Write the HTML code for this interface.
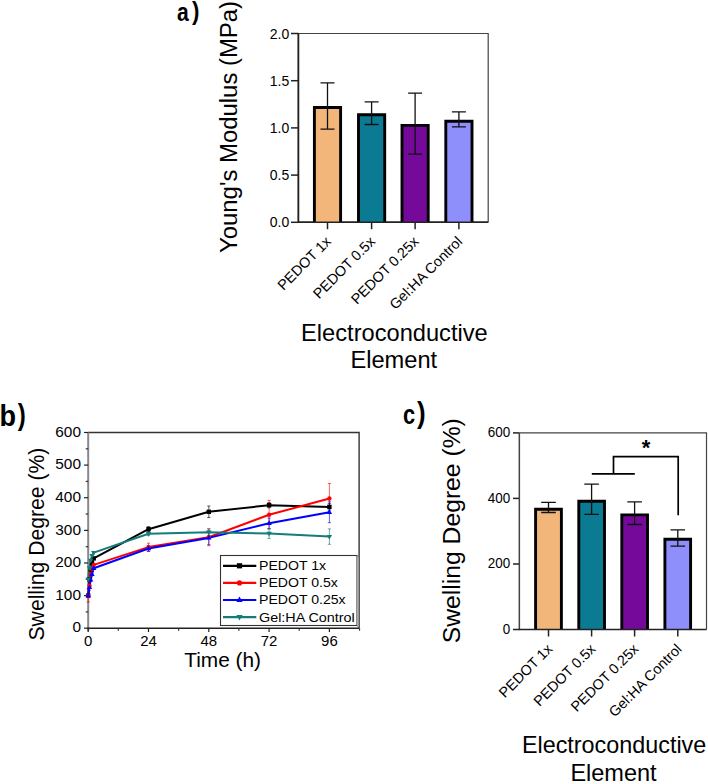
<!DOCTYPE html>
<html><head><meta charset="utf-8"><style>
html,body{margin:0;padding:0;background:#fff;width:708px;height:784px;overflow:hidden}
svg{display:block}
text{font-family:"Liberation Sans", sans-serif;fill:#000}
</style></head><body>
<svg width="708" height="784" viewBox="0 0 708 784">
<path d="M298.4,33.5 H488.2 V222.3" fill="none" stroke="#444" stroke-width="1.2"/>
<path d="M298.4,32.9 V222.3 H488.2" fill="none" stroke="#222" stroke-width="1.5"/>
<line x1="291" y1="222.3" x2="298.4" y2="222.3" stroke="#222" stroke-width="1.5"/>
<text x="289.2" y="227.4" text-anchor="end" font-size="14">0.0</text>
<line x1="291" y1="175.1" x2="298.4" y2="175.1" stroke="#222" stroke-width="1.5"/>
<text x="289.2" y="180.2" text-anchor="end" font-size="14">0.5</text>
<line x1="291" y1="127.9" x2="298.4" y2="127.9" stroke="#222" stroke-width="1.5"/>
<text x="289.2" y="133.0" text-anchor="end" font-size="14">1.0</text>
<line x1="291" y1="80.7" x2="298.4" y2="80.7" stroke="#222" stroke-width="1.5"/>
<text x="289.2" y="85.8" text-anchor="end" font-size="14">1.5</text>
<line x1="291" y1="33.5" x2="298.4" y2="33.5" stroke="#222" stroke-width="1.5"/>
<text x="289.2" y="38.6" text-anchor="end" font-size="14">2.0</text>
<path d="M314.4,222.3 V107.5 H340.6 V222.3Z" fill="#F2B67B"/>
<path d="M314.4,222.3 V107.5 H340.6 V222.3" fill="none" stroke="#000" stroke-width="2.9"/>
<path d="M327.5,82.8 V129.2 M320.5,82.8 H334.5 M320.5,129.2 H334.5" stroke="#111" stroke-width="1.3" fill="none"/>
<line x1="327.5" y1="222.3" x2="327.5" y2="229.2" stroke="#222" stroke-width="1.5"/>
<path d="M358.5,222.3 V114.7 H384.7 V222.3Z" fill="#0B7B93"/>
<path d="M358.5,222.3 V114.7 H384.7 V222.3" fill="none" stroke="#000" stroke-width="2.9"/>
<path d="M371.6,101.9 V124.5 M364.6,101.9 H378.6 M364.6,124.5 H378.6" stroke="#111" stroke-width="1.3" fill="none"/>
<line x1="371.6" y1="222.3" x2="371.6" y2="229.2" stroke="#222" stroke-width="1.5"/>
<path d="M402.0,222.3 V125.4 H428.2 V222.3Z" fill="#750A9A"/>
<path d="M402.0,222.3 V125.4 H428.2 V222.3" fill="none" stroke="#000" stroke-width="2.9"/>
<path d="M415.1,93.1 V154.1 M408.1,93.1 H422.1 M408.1,154.1 H422.1" stroke="#111" stroke-width="1.3" fill="none"/>
<line x1="415.1" y1="222.3" x2="415.1" y2="229.2" stroke="#222" stroke-width="1.5"/>
<path d="M445.8,222.3 V121.2 H472.0 V222.3Z" fill="#8F8FFC"/>
<path d="M445.8,222.3 V121.2 H472.0 V222.3" fill="none" stroke="#000" stroke-width="2.9"/>
<path d="M458.9,111.9 V126.9 M451.9,111.9 H465.9 M451.9,126.9 H465.9" stroke="#111" stroke-width="1.3" fill="none"/>
<line x1="458.9" y1="222.3" x2="458.9" y2="229.2" stroke="#222" stroke-width="1.5"/>
<path d="M298.4,32.9 V222.3 H488.2" fill="none" stroke="#222" stroke-width="1.5"/>
<text transform="translate(331.9,242.5) rotate(-45)" text-anchor="end" font-size="14.4">PEDOT 1x</text>
<text transform="translate(376.0,242.5) rotate(-45)" text-anchor="end" font-size="14.4">PEDOT 0.5x</text>
<text transform="translate(419.5,242.5) rotate(-45)" text-anchor="end" font-size="14.4">PEDOT 0.25x</text>
<text transform="translate(463.3,242.5) rotate(-45)" text-anchor="end" font-size="14.4">Gel:HA Control</text>
<text transform="translate(236.7,253) rotate(-90) scale(0.996,1)" font-size="24">Young's Modulus (MPa)</text>
<text transform="translate(394.4,340.5) scale(1.016,1)" text-anchor="middle" font-size="23.3">Electroconductive</text>
<text transform="translate(393.8,368) scale(1.014,1)" text-anchor="middle" font-size="23.3">Element</text>
<text transform="translate(176.88,20.64) scale(0.823,1)" font-size="25.64" font-weight="bold">a</text>
<text transform="translate(192.00,20.20) scale(0.856,1)" font-size="26.17" font-weight="bold">)</text>
<rect x="0" y="0" width="0" height="0" fill="none"/>
<path d="M88.2,432.5 H359.1 V628.2" fill="none" stroke="#333" stroke-width="1.4"/>
<line x1="88.2" y1="432.5" x2="88.2" y2="631.2" stroke="#888" stroke-width="2"/>
<line x1="87.2" y1="628.2" x2="359.1" y2="628.2" stroke="#222" stroke-width="1.5"/>
<line x1="84" y1="628.2" x2="88.2" y2="628.2" stroke="#222" stroke-width="1.2"/>
<text transform="translate(81,632.4) scale(1.1,1)" text-anchor="end" font-size="14">0</text>
<line x1="84" y1="595.6" x2="88.2" y2="595.6" stroke="#222" stroke-width="1.2"/>
<text transform="translate(81,599.8) scale(1.1,1)" text-anchor="end" font-size="14">100</text>
<line x1="84" y1="563.0" x2="88.2" y2="563.0" stroke="#222" stroke-width="1.2"/>
<text transform="translate(81,567.2) scale(1.1,1)" text-anchor="end" font-size="14">200</text>
<line x1="84" y1="530.4" x2="88.2" y2="530.4" stroke="#222" stroke-width="1.2"/>
<text transform="translate(81,534.6) scale(1.1,1)" text-anchor="end" font-size="14">300</text>
<line x1="84" y1="497.7" x2="88.2" y2="497.7" stroke="#222" stroke-width="1.2"/>
<text transform="translate(81,501.9) scale(1.1,1)" text-anchor="end" font-size="14">400</text>
<line x1="84" y1="465.1" x2="88.2" y2="465.1" stroke="#222" stroke-width="1.2"/>
<text transform="translate(81,469.3) scale(1.1,1)" text-anchor="end" font-size="14">500</text>
<line x1="84" y1="432.5" x2="88.2" y2="432.5" stroke="#222" stroke-width="1.2"/>
<text transform="translate(81,436.7) scale(1.1,1)" text-anchor="end" font-size="14">600</text>
<line x1="85.7" y1="611.9" x2="88.2" y2="611.9" stroke="#333" stroke-width="1.2"/>
<line x1="85.7" y1="579.3" x2="88.2" y2="579.3" stroke="#333" stroke-width="1.2"/>
<line x1="85.7" y1="546.7" x2="88.2" y2="546.7" stroke="#333" stroke-width="1.2"/>
<line x1="85.7" y1="514.0" x2="88.2" y2="514.0" stroke="#333" stroke-width="1.2"/>
<line x1="85.7" y1="481.4" x2="88.2" y2="481.4" stroke="#333" stroke-width="1.2"/>
<line x1="85.7" y1="448.8" x2="88.2" y2="448.8" stroke="#333" stroke-width="1.2"/>
<line x1="88.2" y1="628.2" x2="88.2" y2="632" stroke="#222" stroke-width="1.2"/>
<text transform="translate(88.2,646.3) scale(1.07,1)" text-anchor="middle" font-size="14">0</text>
<line x1="148.5" y1="628.2" x2="148.5" y2="632" stroke="#222" stroke-width="1.2"/>
<text transform="translate(148.5,646.3) scale(1.07,1)" text-anchor="middle" font-size="14">24</text>
<line x1="208.8" y1="628.2" x2="208.8" y2="632" stroke="#222" stroke-width="1.2"/>
<text transform="translate(208.8,646.3) scale(1.07,1)" text-anchor="middle" font-size="14">48</text>
<line x1="269.1" y1="628.2" x2="269.1" y2="632" stroke="#222" stroke-width="1.2"/>
<text transform="translate(269.1,646.3) scale(1.07,1)" text-anchor="middle" font-size="14">72</text>
<line x1="329.4" y1="628.2" x2="329.4" y2="632" stroke="#222" stroke-width="1.2"/>
<text transform="translate(329.4,646.3) scale(1.07,1)" text-anchor="middle" font-size="14">96</text>
<line x1="118.3" y1="628.2" x2="118.3" y2="630.7" stroke="#333" stroke-width="1.2"/>
<line x1="178.6" y1="628.2" x2="178.6" y2="630.7" stroke="#333" stroke-width="1.2"/>
<line x1="238.9" y1="628.2" x2="238.9" y2="630.7" stroke="#333" stroke-width="1.2"/>
<line x1="299.2" y1="628.2" x2="299.2" y2="630.7" stroke="#333" stroke-width="1.2"/>
<line x1="359.5" y1="628.2" x2="359.5" y2="630.7" stroke="#333" stroke-width="1.2"/>
<path d="M148.5,526.6 V531.8 M146.9,526.6 H150.1 M146.9,531.8 H150.1" stroke="#000" stroke-width="0.9" opacity="0.7" fill="none"/>
<path d="M208.8,506.0 V517.5 M207.2,506.0 H210.4 M207.2,517.5 H210.4" stroke="#000" stroke-width="0.9" opacity="0.7" fill="none"/>
<path d="M269.1,502.6 V507.8 M267.5,502.6 H270.7 M267.5,507.8 H270.7" stroke="#000" stroke-width="0.9" opacity="0.7" fill="none"/>
<path d="M329.4,503.6 V510.1 M327.8,503.6 H331.0 M327.8,510.1 H331.0" stroke="#000" stroke-width="0.9" opacity="0.7" fill="none"/>
<path d="M88.2,589.1 V602.1 M86.6,589.1 H89.8 M86.6,602.1 H89.8" stroke="#FF0000" stroke-width="0.9" opacity="0.7" fill="none"/>
<path d="M89.5,580.9 V590.7 M87.9,580.9 H91.1 M87.9,590.7 H91.1" stroke="#FF0000" stroke-width="0.9" opacity="0.7" fill="none"/>
<path d="M148.5,543.2 V551.0 M146.9,543.2 H150.1 M146.9,551.0 H150.1" stroke="#FF0000" stroke-width="0.9" opacity="0.7" fill="none"/>
<path d="M208.8,528.7 V545.7 M207.2,528.7 H210.4 M207.2,545.7 H210.4" stroke="#FF0000" stroke-width="0.9" opacity="0.7" fill="none"/>
<path d="M269.1,500.4 V529.1 M267.5,500.4 H270.7 M267.5,529.1 H270.7" stroke="#FF0000" stroke-width="0.9" opacity="0.7" fill="none"/>
<path d="M329.4,483.5 V513.6 M327.8,483.5 H331.0 M327.8,513.6 H331.0" stroke="#FF0000" stroke-width="0.9" opacity="0.7" fill="none"/>
<path d="M148.5,545.6 V551.5 M146.9,545.6 H150.1 M146.9,551.5 H150.1" stroke="#0000FF" stroke-width="0.9" opacity="0.7" fill="none"/>
<path d="M208.8,531.0 V544.7 M207.2,531.0 H210.4 M207.2,544.7 H210.4" stroke="#0000FF" stroke-width="0.9" opacity="0.7" fill="none"/>
<path d="M269.1,518.1 V528.5 M267.5,518.1 H270.7 M267.5,528.5 H270.7" stroke="#0000FF" stroke-width="0.9" opacity="0.7" fill="none"/>
<path d="M329.4,501.8 V522.7 M327.8,501.8 H331.0 M327.8,522.7 H331.0" stroke="#0000FF" stroke-width="0.9" opacity="0.7" fill="none"/>
<path d="M148.5,531.7 V535.6 M146.9,531.7 H150.1 M146.9,535.6 H150.1" stroke="#157C7C" stroke-width="0.9" opacity="0.7" fill="none"/>
<path d="M208.8,529.0 V535.6 M207.2,529.0 H210.4 M207.2,535.6 H210.4" stroke="#157C7C" stroke-width="0.9" opacity="0.7" fill="none"/>
<path d="M269.1,528.6 V538.4 M267.5,528.6 H270.7 M267.5,538.4 H270.7" stroke="#157C7C" stroke-width="0.9" opacity="0.7" fill="none"/>
<path d="M329.4,528.9 V544.3 M327.8,528.9 H331.0 M327.8,544.3 H331.0" stroke="#157C7C" stroke-width="0.9" opacity="0.7" fill="none"/>
<path d="M88.2,595.6 L89.5,579.3 L90.7,569.5 L92.0,563.0 L93.7,558.4 L148.5,529.2 L208.8,511.8 L269.1,505.2 L329.4,506.9" stroke="#000" stroke-width="2.0" fill="none" stroke-linejoin="round"/>
<path d="M88.2,595.6 L89.5,585.8 L90.7,574.4 L92.0,568.8 L93.7,564.9 L148.5,547.1 L208.8,537.2 L269.1,514.8 L329.4,498.5" stroke="#FF0000" stroke-width="2.0" fill="none" stroke-linejoin="round"/>
<path d="M88.2,595.6 L89.5,587.4 L90.7,579.9 L92.0,574.4 L93.7,568.2 L148.5,548.5 L208.8,537.9 L269.1,523.3 L329.4,512.3" stroke="#0000FF" stroke-width="2.0" fill="none" stroke-linejoin="round"/>
<path d="M88.2,579.3 L89.5,567.9 L90.7,560.4 L92.0,555.8 L93.7,552.6 L148.5,533.7 L208.8,532.3 L269.1,533.5 L329.4,536.6" stroke="#157C7C" stroke-width="2.0" fill="none" stroke-linejoin="round"/>
<rect x="86.0" y="593.4" width="4.4" height="4.4" fill="#000"/>
<rect x="87.3" y="577.1" width="4.4" height="4.4" fill="#000"/>
<rect x="88.5" y="567.3" width="4.4" height="4.4" fill="#000"/>
<rect x="89.8" y="560.8" width="4.4" height="4.4" fill="#000"/>
<rect x="91.5" y="556.2" width="4.4" height="4.4" fill="#000"/>
<rect x="146.3" y="527.0" width="4.4" height="4.4" fill="#000"/>
<rect x="206.6" y="509.6" width="4.4" height="4.4" fill="#000"/>
<rect x="266.9" y="503.0" width="4.4" height="4.4" fill="#000"/>
<rect x="327.2" y="504.7" width="4.4" height="4.4" fill="#000"/>
<circle cx="88.2" cy="595.6" r="2.2" fill="#FF0000"/>
<circle cx="89.5" cy="585.8" r="2.2" fill="#FF0000"/>
<circle cx="90.7" cy="574.4" r="2.2" fill="#FF0000"/>
<circle cx="92.0" cy="568.8" r="2.2" fill="#FF0000"/>
<circle cx="93.7" cy="564.9" r="2.2" fill="#FF0000"/>
<circle cx="148.5" cy="547.1" r="2.2" fill="#FF0000"/>
<circle cx="208.8" cy="537.2" r="2.2" fill="#FF0000"/>
<circle cx="269.1" cy="514.8" r="2.2" fill="#FF0000"/>
<circle cx="329.4" cy="498.5" r="2.2" fill="#FF0000"/>
<path d="M88.2,592.6 L90.9,597.3 L85.5,597.3Z" fill="#0000FF"/>
<path d="M89.5,584.4 L92.2,589.1 L86.8,589.1Z" fill="#0000FF"/>
<path d="M90.7,576.9 L93.4,581.6 L88.0,581.6Z" fill="#0000FF"/>
<path d="M92.0,571.4 L94.7,576.1 L89.3,576.1Z" fill="#0000FF"/>
<path d="M93.7,565.2 L96.4,569.9 L91.0,569.9Z" fill="#0000FF"/>
<path d="M148.5,545.5 L151.2,550.2 L145.8,550.2Z" fill="#0000FF"/>
<path d="M208.8,534.9 L211.5,539.6 L206.1,539.6Z" fill="#0000FF"/>
<path d="M269.1,520.3 L271.8,525.0 L266.4,525.0Z" fill="#0000FF"/>
<path d="M329.4,509.3 L332.1,514.0 L326.7,514.0Z" fill="#0000FF"/>
<path d="M88.2,582.3 L90.9,577.6 L85.5,577.6Z" fill="#157C7C"/>
<path d="M89.5,570.9 L92.2,566.2 L86.8,566.2Z" fill="#157C7C"/>
<path d="M90.7,563.4 L93.4,558.7 L88.0,558.7Z" fill="#157C7C"/>
<path d="M92.0,558.8 L94.7,554.1 L89.3,554.1Z" fill="#157C7C"/>
<path d="M93.7,555.6 L96.4,550.9 L91.0,550.9Z" fill="#157C7C"/>
<path d="M148.5,536.7 L151.2,532.0 L145.8,532.0Z" fill="#157C7C"/>
<path d="M208.8,535.3 L211.5,530.6 L206.1,530.6Z" fill="#157C7C"/>
<path d="M269.1,536.5 L271.8,531.8 L266.4,531.8Z" fill="#157C7C"/>
<path d="M329.4,539.6 L332.1,534.9 L326.7,534.9Z" fill="#157C7C"/>
<rect x="220.5" y="555.5" width="136.5" height="70" fill="#fff" stroke="#333" stroke-width="1.1"/>
<line x1="357.8" y1="557" x2="357.8" y2="627" stroke="#aaa" stroke-width="1.5"/>
<line x1="223" y1="565.8" x2="256.3" y2="565.8" stroke="#000" stroke-width="2.2"/>
<rect x="236.9" y="563.2" width="5.2" height="5.2" fill="#000"/>
<text transform="translate(259.0,570.2) scale(1.06,1)" font-size="13.3">PEDOT 1x</text>
<line x1="223" y1="582.9" x2="256.3" y2="582.9" stroke="#FF0000" stroke-width="2.2"/>
<circle cx="239.5" cy="582.9" r="2.6" fill="#FF0000"/>
<text transform="translate(259.0,587.3) scale(1.06,1)" font-size="13.3">PEDOT 0.5x</text>
<line x1="223" y1="600.0" x2="256.3" y2="600.0" stroke="#0000FF" stroke-width="2.2"/>
<path d="M239.5,596.6 L242.6,602.1 L236.4,602.1Z" fill="#0000FF"/>
<text transform="translate(259.0,604.4) scale(1.06,1)" font-size="13.3">PEDOT 0.25x</text>
<line x1="223" y1="617.1" x2="256.3" y2="617.1" stroke="#157C7C" stroke-width="2.2"/>
<path d="M239.5,620.5 L242.6,615.0 L236.4,615.0Z" fill="#157C7C"/>
<text transform="translate(259.0,621.5) scale(1.08,1)" font-size="13.3">Gel:HA Control</text>
<text transform="translate(43.6,640.5) rotate(-90)" font-size="21.17">Swelling Degree (%)</text>
<text transform="translate(184.3,666.5) scale(1.042,1)" font-size="20">Time (h)</text>
<text transform="translate(-0.62,425.61) scale(0.927,1)" font-size="29.19" font-weight="bold">b</text>
<text transform="translate(17.70,424.88) scale(0.828,1)" font-size="29.15" font-weight="bold">)</text>
<path d="M519.4,432.9 H706.5 V629.5" fill="none" stroke="#444" stroke-width="1.2"/>
<path d="M519.4,432.9 V629.5" fill="none" stroke="#444" stroke-width="1.3"/>
<line x1="513" y1="629.5" x2="519.4" y2="629.5" stroke="#222" stroke-width="1.5"/>
<text transform="translate(510.2,633.9) scale(0.96,1)" text-anchor="end" font-size="14">0</text>
<line x1="513" y1="564.0" x2="519.4" y2="564.0" stroke="#222" stroke-width="1.5"/>
<text transform="translate(510.2,568.4) scale(0.96,1)" text-anchor="end" font-size="14">200</text>
<line x1="513" y1="498.4" x2="519.4" y2="498.4" stroke="#222" stroke-width="1.5"/>
<text transform="translate(510.2,502.8) scale(0.96,1)" text-anchor="end" font-size="14">400</text>
<line x1="513" y1="432.9" x2="519.4" y2="432.9" stroke="#222" stroke-width="1.5"/>
<text transform="translate(510.2,437.3) scale(0.96,1)" text-anchor="end" font-size="14">600</text>
<path d="M535.6,629.5 V509.2 H561.4 V629.5Z" fill="#F2B67B"/>
<path d="M535.6,629.5 V509.2 H561.4 V629.5" fill="none" stroke="#000" stroke-width="2.9"/>
<path d="M548.5,502.3 V512.5 M541.2,502.3 H555.8 M541.2,512.5 H555.8" stroke="#111" stroke-width="1.3" fill="none"/>
<line x1="548.5" y1="629.5" x2="548.5" y2="636.5" stroke="#222" stroke-width="1.5"/>
<path d="M578.8,629.5 V501.2 H604.5 V629.5Z" fill="#0B7B93"/>
<path d="M578.8,629.5 V501.2 H604.5 V629.5" fill="none" stroke="#000" stroke-width="2.9"/>
<path d="M591.6,484.2 V514.3 M584.3000000000001,484.2 H598.9 M584.3000000000001,514.3 H598.9" stroke="#111" stroke-width="1.3" fill="none"/>
<line x1="591.6" y1="629.5" x2="591.6" y2="636.5" stroke="#222" stroke-width="1.5"/>
<path d="M621.8,629.5 V514.9 H647.5 V629.5Z" fill="#750A9A"/>
<path d="M621.8,629.5 V514.9 H647.5 V629.5" fill="none" stroke="#000" stroke-width="2.9"/>
<path d="M634.6,501.9 V524.5 M627.3000000000001,501.9 H641.9 M627.3000000000001,524.5 H641.9" stroke="#111" stroke-width="1.3" fill="none"/>
<line x1="634.6" y1="629.5" x2="634.6" y2="636.5" stroke="#222" stroke-width="1.5"/>
<path d="M664.9,629.5 V539.3 H690.6 V629.5Z" fill="#8F8FFC"/>
<path d="M664.9,629.5 V539.3 H690.6 V629.5" fill="none" stroke="#000" stroke-width="2.9"/>
<path d="M677.8,529.9 V546.1 M670.5,529.9 H685.0999999999999 M670.5,546.1 H685.0999999999999" stroke="#111" stroke-width="1.3" fill="none"/>
<line x1="677.8" y1="629.5" x2="677.8" y2="636.5" stroke="#222" stroke-width="1.5"/>
<path d="M519.4,432.9 V629.5" fill="none" stroke="#444" stroke-width="1.3"/><path d="M518.8,629.5 H706.5" fill="none" stroke="#222" stroke-width="1.5"/>
<text transform="translate(553.3,650.0) rotate(-45)" text-anchor="end" font-size="14.4">PEDOT 1x</text>
<text transform="translate(596.4,650.0) rotate(-45)" text-anchor="end" font-size="14.4">PEDOT 0.5x</text>
<text transform="translate(639.4,650.0) rotate(-45)" text-anchor="end" font-size="14.4">PEDOT 0.25x</text>
<text transform="translate(682.6,650.0) rotate(-45)" text-anchor="end" font-size="14.4">Gel:HA Control</text>
<path d="M591.8,473.9 H634.8 M613.5,473.9 V456.7 H678.2 V515.3" fill="none" stroke="#000" stroke-width="1.7"/>
<text x="646" y="454.6" text-anchor="middle" font-size="22" font-weight="bold">*</text>
<text transform="translate(459.7,643.2) rotate(-90)" font-size="24.7">Swelling Degree (%)</text>
<text transform="translate(614.1,753.1) scale(1.016,1)" text-anchor="middle" font-size="23">Electroconductive</text>
<text transform="translate(613.5,781.1) scale(1.023,1)" text-anchor="middle" font-size="23">Element</text>
<text transform="translate(403.05,424.43) scale(0.810,1)" font-size="26.91" font-weight="bold">c</text>
<text transform="translate(417.00,423.39) scale(0.904,1)" font-size="28.62" font-weight="bold">)</text>
</svg>
</body></html>
